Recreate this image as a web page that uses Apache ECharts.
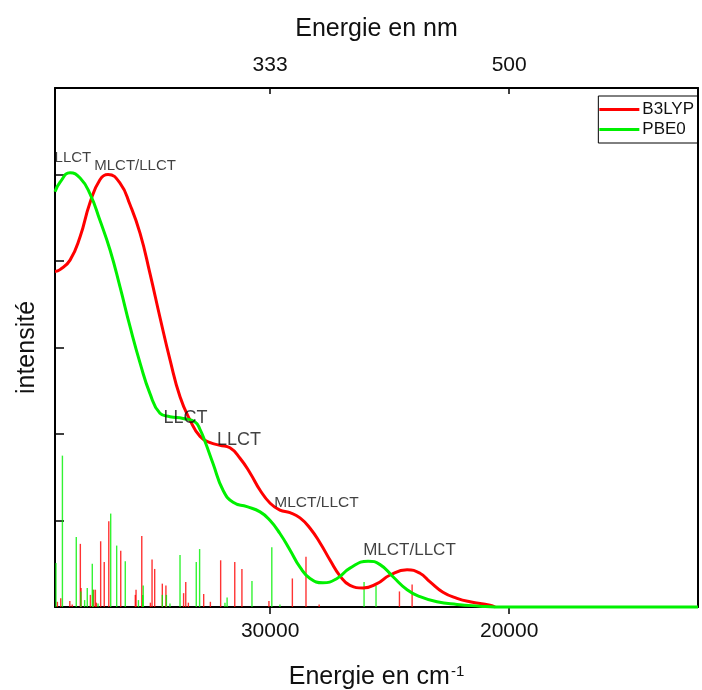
<!DOCTYPE html>
<html>
<head>
<meta charset="utf-8">
<script src="https://cdn.jsdelivr.net/npm/echarts@6/dist/echarts.min.js"></script>
<style>
html, body { margin: 0; padding: 0; background: #fff; }
#chart { width: 702px; height: 690px; }
</style>
</head>
<body>
<div id="chart"></div>
<script>
// energie (cm-1) / intensite
var b3lypCurve = [
	[39000, 3.88], [38790, 3.9], [38370, 4.01], [37950, 4.28], [37540, 4.67], [37120, 4.94],
	[36780, 5.0], [36280, 4.9], [35860, 4.65], [35440, 4.32], [35030, 3.86], [34610, 3.35],
	[34190, 2.86], [33770, 2.43], [33350, 2.16], [32930, 1.97], [32510, 1.9], [32100, 1.87],
	[31680, 1.84], [31260, 1.72], [30840, 1.55], [30420, 1.35], [30000, 1.2], [29590, 1.12],
	[29170, 1.09], [28750, 1.03], [28330, 0.91], [27910, 0.74], [27490, 0.54], [27080, 0.36],
	[26660, 0.25], [26110, 0.22], [25530, 0.27], [24980, 0.37], [24270, 0.43], [23730, 0.39],
	[23310, 0.29], [22770, 0.17], [22180, 0.10], [21640, 0.06], [20800, 0.02], [20590, 0]
];
var pbe0Curve = [
	[39000, 4.8], [38790, 4.91], [38370, 5.02], [37950, 4.96], [37540, 4.78], [37120, 4.47],
	[36700, 4.13], [36280, 3.7], [35860, 3.24], [35440, 2.82], [35030, 2.47], [34610, 2.24],
	[34190, 2.2], [33640, 2.18], [33140, 2.14], [32930, 2.05], [32720, 1.91], [32390, 1.66],
	[31970, 1.35], [31550, 1.21], [30970, 1.16], [30420, 1.1], [30000, 1.0], [29590, 0.85],
	[29170, 0.66], [28750, 0.46], [28330, 0.33], [27790, 0.28], [27200, 0.33], [26660, 0.45],
	[25900, 0.53], [25400, 0.49], [24860, 0.35], [24270, 0.2], [23730, 0.12], [23020, 0.06],
	[22180, 0.03], [21220, 0.01], [20590, 0], [12100, 0]
];
var b3lypSticks = [
	[38900, 0.06], [38760, 0.1], [38380, 0.07], [38280, 0.03], [37940, 0.73], [37910, 0.22],
	[37520, 0.14], [37380, 0.2], [37310, 0.2], [37270, 0.05], [37090, 0.76], [36940, 0.52],
	[36750, 0.99], [36250, 0.65], [35640, 0.14], [35610, 0.2], [35370, 0.82], [35010, 0.05],
	[34940, 0.55], [34830, 0.44], [34510, 0.27], [34360, 0.25], [33620, 0.16], [33530, 0.29],
	[33420, 0.05], [32780, 0.15], [32500, 0.06], [32070, 0.54], [31480, 0.52], [31180, 0.44],
	[30050, 0.07], [29070, 0.33], [28500, 0.58], [27950, 0.03], [24590, 0.18], [24060, 0.26]
];
var pbe0Sticks = [
	[38960, 0.51], [38690, 1.75], [38110, 0.81], [37920, 0.18], [37760, 0.08], [37650, 0.22],
	[37440, 0.5], [37410, 0.2], [37200, 0.04], [36670, 1.08], [36420, 0.71], [36060, 0.53],
	[35510, 0.08], [35310, 0.25], [35330, 0.14], [34510, 0.14], [34340, 0.14], [34190, 0.04],
	[33770, 0.6], [33090, 0.52], [32950, 0.67], [31890, 0.05], [31800, 0.11], [30760, 0.3],
	[29930, 0.69], [29590, 0.03], [26070, 0.29], [25570, 0.25]
];
var annotTexts = ['LLCT', 'MLCT/LLCT', 'LLCT', 'LLCT', 'MLCT/LLCT', 'MLCT/LLCT'];
var annotPoints = [[38250, 5.19], [35650, 5.10], [33540, 2.19], [31300, 1.93], [28060, 1.21], [24170, 0.65]];
var xTicks = [30000, 20000];
var xMin = 12100, xMax = 39000;

var annotSizes = [15, 15, 18, 18, 15.5, 17];
var font = 'Liberation Sans, Arial, sans-serif';
var red = '#ff0000', green = '#00f000';

function stickSeries(name, data, color) {
	return {
		name: name,
		type: 'custom',
		z: 1,
		clip: true,
		data: data,
		renderItem: function(params, api) {
			var p0 = api.coord([api.value(0), 0]);
			var p1 = api.coord([api.value(0), api.value(1)]);
			return {
				type: 'line',
				shape: { x1: p0[0], y1: p0[1], x2: p1[0], y2: p1[1] },
				style: { stroke: color, lineWidth: 1.4, opacity: 0.8 }
			};
		}
	};
}

var annotData = [];
for (var i = 0; i < annotPoints.length; i++) {
	annotData.push({
		value: annotPoints[i],
		label: { formatter: annotTexts[i], fontSize: annotSizes[i] }
	});
}

var myChart = echarts.init(document.getElementById('chart'));
var option = {
	backgroundColor: '#fff',
	animation: false,
	textStyle: { fontFamily: font },
	grid: { left: 55, right: 4, top: 88, bottom: 83, outerBoundsMode: 'none', containLabel: false },
	legend: {
		data: ['B3LYP', 'PBE0'],
		orient: 'vertical',
		right: 4,
		top: 96,
		icon: 'rect',
		itemWidth: 40,
		itemHeight: 3,
		itemGap: 3,
		padding: [5, 4, 5, 1],
		borderColor: '#000',
		borderWidth: 1,
		textStyle: { fontSize: 17, color: '#111', fontFamily: font, padding: [0, 0, 0, -2] }
	},
	xAxis: [{
		type: 'value',
		position: 'bottom',
		min: xMin,
		max: xMax,
		inverse: true,
		name: '{a|Energie en cm}{b|-1}',
		nameLocation: 'middle',
		nameGap: 57,
		nameTextStyle: {
			rich: {
				a: { fontSize: 25, color: '#111', fontFamily: font },
				b: { fontSize: 15, color: '#111', fontFamily: font, verticalAlign: 'top', padding: [0, 0, 12, 1] }
			}
		},
		splitLine: { show: false },
		axisLine: { onZero: false, lineStyle: { color: '#000', width: 2 } },
		axisTick: { customValues: xTicks, length: 7, lineStyle: { color: '#000', width: 1.5 } },
		axisLabel: {
			customValues: xTicks,
			fontSize: 21,
			color: '#111',
			margin: 14,
			formatter: function(v) { return String(v); }
		}
	}, {
		type: 'value',
		position: 'top',
		min: xMin,
		max: xMax,
		inverse: true,
		name: 'Energie en nm',
		nameLocation: 'middle',
		nameGap: 46,
		nameTextStyle: { fontSize: 25, color: '#111' },
		splitLine: { show: false },
		axisLine: { onZero: false, lineStyle: { color: '#000', width: 2 } },
		axisTick: { customValues: xTicks, inside: true, length: 6, lineStyle: { color: '#000', width: 1.5 } },
		axisLabel: {
			customValues: xTicks,
			fontSize: 21,
			color: '#111',
			margin: 12,
			formatter: function(v) { return String(Math.round(1e7 / v)); }
		}
	}],
	yAxis: [{
		type: 'value',
		min: 0,
		max: 6,
		interval: 1,
		name: 'intensité',
		nameLocation: 'middle',
		nameGap: 15,
		nameTextStyle: { fontSize: 25, color: '#111' },
		splitLine: { show: false },
		axisLine: { show: true, lineStyle: { color: '#000', width: 2 } },
		axisTick: { inside: true, length: 9, lineStyle: { color: '#000', width: 1.5 } },
		axisLabel: { show: false }
	}, {
		type: 'value',
		position: 'right',
		min: 0,
		max: 6,
		splitLine: { show: false },
		axisLine: { show: true, lineStyle: { color: '#000', width: 2 } },
		axisTick: { show: false },
		axisLabel: { show: false }
	}],
	series: [
		stickSeries('B3LYP sticks', b3lypSticks, red),
		stickSeries('PBE0 sticks', pbe0Sticks, green),
		{
			name: 'B3LYP',
			type: 'line',
			z: 3,
			smooth: 0.5,
			clip: false,
			showSymbol: false,
			symbol: 'none',
			data: b3lypCurve,
			itemStyle: { color: red },
			lineStyle: { color: red, width: 3 }
		},
		{
			name: 'PBE0',
			type: 'line',
			z: 4,
			smooth: 0.5,
			clip: false,
			showSymbol: false,
			symbol: 'none',
			data: pbe0Curve,
			itemStyle: { color: green },
			lineStyle: { color: green, width: 3 }
		},
		{
			name: 'annotations',
			type: 'scatter',
			z: 5,
			symbolSize: 0,
			silent: true,
			data: annotData,
			label: {
				show: true,
				position: 'inside',
				color: '#111',
				textBorderWidth: 0,
				fontFamily: font
			}
		}
	]
};
myChart.setOption(option);
</script>
</body>
</html>
